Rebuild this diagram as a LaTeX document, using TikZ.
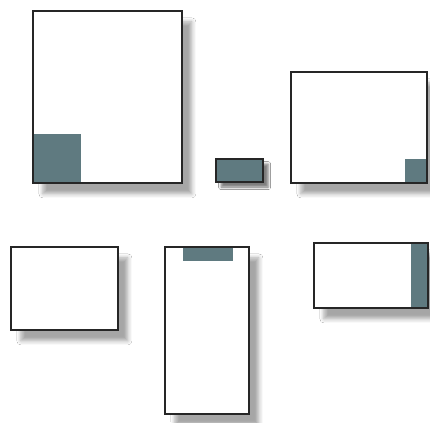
\documentclass[tikz,border=0pt]{standalone}
\usetikzlibrary{shadows.blur}
\definecolor{slate}{RGB}{95,122,128}
\begin{document}
\begin{tikzpicture}[x=1pt,y=-1pt,
  box/.style={draw=black!85, line width=1.8pt, fill=white, inner sep=0pt, anchor=north west,
    blur shadow={shadow xshift=10pt, shadow yshift=-11pt, shadow blur radius=4pt, shadow opacity=35}},
  smallshadow/.style={blur shadow={shadow xshift=5pt, shadow yshift=-5pt, shadow blur radius=2.5pt, shadow opacity=30}}
]
\useasboundingbox[fill=white] (0,0) rectangle (430,422);
\node[box, minimum width=149pt, minimum height=172pt,
  path picture={\fill[slate] (path picture bounding box.south west) rectangle ++(48pt,49pt);}] (b1) at (32,10) {};
\node[box, smallshadow, fill=slate, line width=2.2pt, minimum width=47pt, minimum height=23pt] (b2) at (215,158) {};
\node[box, minimum width=136pt, minimum height=111pt,
  path picture={\fill[slate] (path picture bounding box.south east) rectangle ++(-22pt,24pt);}] (b3) at (290,71) {};
\node[box, minimum width=107pt, minimum height=83pt] (b4) at (10,246) {};
\node[box, minimum width=84pt, minimum height=167pt,
  path picture={\fill[slate] ([xshift=18pt]path picture bounding box.north west) rectangle ++(50pt,-14pt);}] (b5) at (164,246) {};
\node[box, minimum width=114pt, minimum height=65pt,
  path picture={\fill[slate] (path picture bounding box.north east) rectangle ++(-17pt,-65pt);}] (b6) at (313,242) {};
\end{tikzpicture}
\end{document}
